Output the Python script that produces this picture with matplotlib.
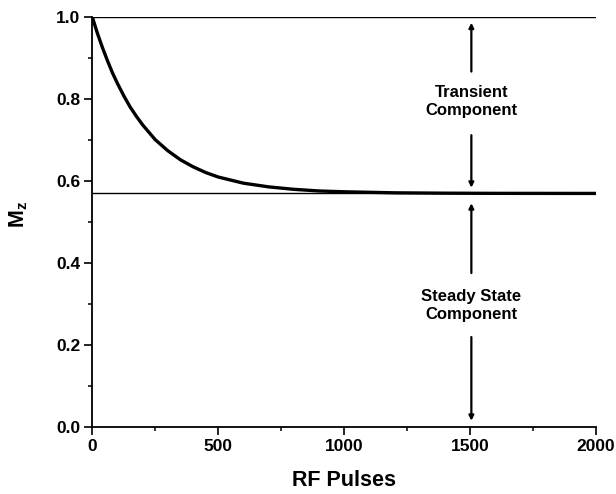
import matplotlib
matplotlib.use("Agg")
import matplotlib.pyplot as plt
from matplotlib.ticker import MultipleLocator

# ---- config ----
plt.rcParams["font.family"] = ["Liberation Sans", "DejaVu Sans"]
plt.rcParams["font.weight"] = "bold"
plt.rcParams["mathtext.fontset"] = "custom"
plt.rcParams["mathtext.rm"] = "Liberation Sans"

# ---- data ----
rf_pulses = [0, 20, 40, 60, 80, 100, 125, 150, 175, 200, 250, 300, 350, 400,
             450, 500, 600, 700, 800, 900, 1000, 1200, 1400, 1600, 2000]
mz = [1.000, 0.961, 0.926, 0.894, 0.864, 0.838, 0.808, 0.781, 0.758, 0.737,
      0.701, 0.674, 0.652, 0.635, 0.621, 0.610, 0.595, 0.586, 0.580, 0.576,
      0.574, 0.5715, 0.5706, 0.5702, 0.570]
m0 = 1.0
m_ss = 0.57
arrow_x = 1505

fig = plt.figure(figsize=(6.16, 4.94), dpi=100)
ax = fig.add_axes([0.1498, 0.135, 0.8178, 0.8306])

ax.plot(rf_pulses, mz, color="k", lw=2.4, solid_capstyle="butt", zorder=3)
ax.plot([0, 2000], [m0, m0], color="k", lw=1.0)
ax.plot([0, 2000], [m_ss, m_ss], color="k", lw=1.0)

ax.set_xlim(0, 2000)
ax.set_ylim(0, 1.0)
ax.xaxis.set_major_locator(MultipleLocator(500))
ax.xaxis.set_minor_locator(MultipleLocator(250))
ax.yaxis.set_major_locator(MultipleLocator(0.2))
ax.yaxis.set_minor_locator(MultipleLocator(0.1))
ax.yaxis.set_major_formatter(matplotlib.ticker.FormatStrFormatter("%.1f"))

for side in ["top", "right"]:
    ax.spines[side].set_visible(False)
for side in ["left", "bottom"]:
    ax.spines[side].set_linewidth(1.3)

ax.tick_params(which="major", direction="out", length=5.5, width=1.2,
               labelsize=12.5, pad=3)
ax.tick_params(which="minor", direction="out", length=3, width=1.1)
for lbl in ax.get_xticklabels() + ax.get_yticklabels():
    lbl.set_fontweight("bold")

ax.set_xlabel("RF Pulses", fontsize=15.5, fontweight="bold")
ax.set_ylabel(r"M$_\mathregular{z}$", fontsize=15.5, fontweight="bold")
ax.xaxis.set_label_coords(0.5, -0.103)
ax.yaxis.set_label_coords(-0.124, 0.52)

# ---- arrows + labels ----
arr = dict(arrowstyle="-|>", color="k", lw=1.6, mutation_scale=7,
           shrinkA=0, shrinkB=0)
ax.annotate("", xy=(arrow_x, 0.986), xytext=(arrow_x, 0.867), arrowprops=arr)
ax.annotate("", xy=(arrow_x, 0.584), xytext=(arrow_x, 0.712), arrowprops=arr)
ax.annotate("", xy=(arrow_x, 0.546), xytext=(arrow_x, 0.376), arrowprops=arr)
ax.annotate("", xy=(arrow_x, 0.016), xytext=(arrow_x, 0.22), arrowprops=arr)

ax.text(arrow_x, 0.794, "Transient\nComponent", ha="center", va="center",
        fontsize=12, fontweight="bold", linespacing=1.2)
ax.text(arrow_x, 0.297, "Steady State\nComponent", ha="center", va="center",
        fontsize=12, fontweight="bold", linespacing=1.2)

fig.savefig("out.png", dpi=100)
